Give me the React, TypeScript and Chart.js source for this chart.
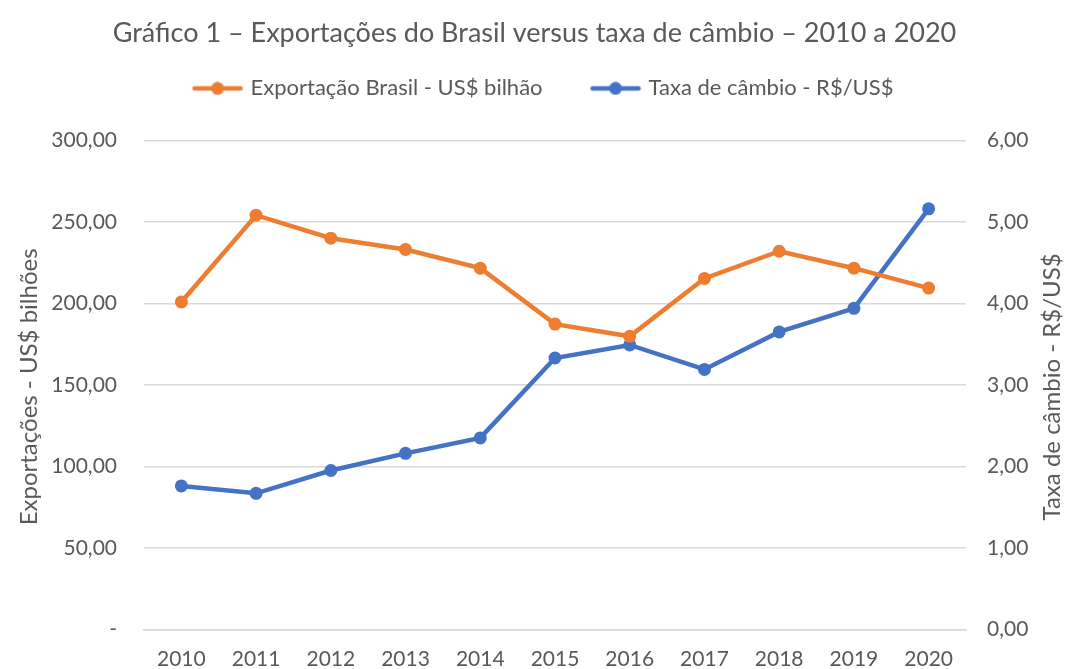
import React, { useEffect, useRef } from "react";
import { Chart, registerables } from "chart.js";

Chart.register(...registerables);

const years = ["2010", "2011", "2012", "2013", "2014", "2015", "2016", "2017", "2018", "2019", "2020"];
const exportsUSD = [200.9, 254.1, 240.0, 233.1, 221.6, 187.3, 179.8, 215.3, 232.0, 221.6, 209.4];
const exchangeRate = [1.76, 1.67, 1.95, 2.16, 2.35, 3.33, 3.49, 3.19, 3.65, 3.94, 5.16];

const title = "Gráfico 1 – Exportações do Brasil versus taxa de câmbio – 2010 a 2020";
const seriesNames = ["Exportação Brasil - US$ bilhão", "Taxa de câmbio - R$/US$"];
const leftAxisTitle = "Exportações - US$ bilhões";
const rightAxisTitle = "Taxa de câmbio - R$/US$";

const ORANGE = "#ED7D31";
const BLUE = "#4472C4";
const TEXT = "#595959";
const GRID = "#D9D9D9";
const FONT = "Lato, 'Open Sans', sans-serif";

function legendIcon(color: string): HTMLCanvasElement {
  const c = document.createElement("canvas");
  c.width = 52;
  c.height = 14;
  const ctx = c.getContext("2d")!;
  ctx.strokeStyle = color;
  ctx.lineWidth = 4.5;
  ctx.lineCap = "round";
  ctx.beginPath();
  ctx.moveTo(3, 7);
  ctx.lineTo(49, 7);
  ctx.stroke();
  ctx.fillStyle = color;
  ctx.beginPath();
  ctx.arc(26, 7, 6.5, 0, Math.PI * 2);
  ctx.fill();
  return c;
}

const fmt = (v: number) => v.toFixed(2).replace(".", ",");

export default function App() {
  const ref = useRef<HTMLCanvasElement>(null);

  useEffect(() => {
    document.body.style.margin = "0";
    const icons = [legendIcon(ORANGE), legendIcon(BLUE)];

    const legendSpacer = {
      id: "legendSpacer",
      beforeInit(chart: any) {
        const legend = chart.legend;
        if (!legend) return;
        const origFit = legend.fit;
        legend.fit = function () {
          origFit.call(legend);
          legend.height += 31;
        };
      },
      afterLayout(chart: any) {
        const legend = chart.legend;
        if (!legend) return;
        legend.left += 10;
        legend.right += 10;
      },
    };

    const axisTitles = {
      id: "axisTitles",
      afterDraw(chart: any) {
        const { ctx, chartArea } = chart;
        const cy = (chartArea.top + chartArea.bottom) / 2 + 2;
        ctx.save();
        ctx.fillStyle = TEXT;
        ctx.font = `24px ${FONT}`;
        ctx.textAlign = "center";
        ctx.textBaseline = "middle";
        ctx.translate(29, cy);
        ctx.rotate(-Math.PI / 2);
        ctx.fillText(leftAxisTitle, 0, 0);
        ctx.restore();
        ctx.save();
        ctx.fillStyle = TEXT;
        ctx.font = `24px ${FONT}`;
        ctx.textAlign = "center";
        ctx.textBaseline = "middle";
        ctx.translate(1052, cy);
        ctx.rotate(-Math.PI / 2);
        ctx.fillText(rightAxisTitle, 0, 0);
        ctx.restore();
      },
    };

    const chart = new Chart(ref.current!, {
      type: "line",
      data: {
        labels: years,
        datasets: [
          {
            label: seriesNames[0],
            data: exportsUSD,
            yAxisID: "y",
            borderColor: ORANGE,
            backgroundColor: ORANGE,
            borderWidth: 4.5,
            pointRadius: 6.5,
            pointHoverRadius: 6.5,
            pointBackgroundColor: ORANGE,
            pointBorderWidth: 0,
            tension: 0,
          },
          {
            label: seriesNames[1],
            data: exchangeRate,
            yAxisID: "y1",
            borderColor: BLUE,
            backgroundColor: BLUE,
            borderWidth: 4.5,
            pointRadius: 6.5,
            pointHoverRadius: 6.5,
            pointBackgroundColor: BLUE,
            pointBorderWidth: 0,
            tension: 0,
          },
        ],
      },
      options: {
        responsive: false,
        animation: false,
        layout: { padding: { left: 0, right: 0, top: 0, bottom: 0 } },
        elements: { point: { pointStyle: "circle" } },
        plugins: {
          title: {
            display: true,
            text: title,
            color: TEXT,
            font: { family: FONT, size: 27, weight: "normal" },
            padding: { top: 17, bottom: -23 },
          },
          legend: {
            display: true,
            position: "top",
            labels: {
              color: TEXT,
              font: { family: FONT, size: 22 },
              usePointStyle: true,
              pointStyleWidth: 44,
              padding: 51,
              generateLabels: () =>
                seriesNames.map((name, i) => ({
                  text: name,
                  fillStyle: i === 0 ? ORANGE : BLUE,
                  strokeStyle: i === 0 ? ORANGE : BLUE,
                  lineWidth: 0,
                  pointStyle: icons[i] as any,
                  datasetIndex: i,
                  fontColor: TEXT,
                  hidden: false,
                })),
            },
          },
          tooltip: { enabled: false },
        },
        scales: {
          x: {
            offset: true,
            grid: { display: false, drawTicks: false },
            border: { display: true, color: GRID, width: 1.5 },
            ticks: {
              color: TEXT,
              font: { family: FONT, size: 21 },
              padding: 17,
              maxRotation: 0,
            },
            afterFit: (s: any) => {
              s.height = 39;
            },
          },
          y: {
            position: "left",
            min: 0,
            max: 300,
            grid: { color: GRID, lineWidth: 1.5, drawTicks: false },
            border: { display: false },
            ticks: {
              stepSize: 50,
              color: TEXT,
              font: { family: FONT, size: 21 },
              padding: 27,
              callback: (v: any) => (Number(v) === 0 ? "-" : fmt(Number(v))),
            },
            afterFit: (s: any) => {
              s.width = 144;
            },
          },
          y1: {
            position: "right",
            min: 0,
            max: 6,
            grid: { display: false, drawTicks: false },
            border: { display: false },
            ticks: {
              stepSize: 1,
              color: TEXT,
              font: { family: FONT, size: 21 },
              padding: 21,
              callback: (v: any) => fmt(Number(v)),
            },
            afterFit: (s: any) => {
              s.width = 103;
            },
          },
        },
      },
      plugins: [legendSpacer, axisTitles],
    });
    return () => chart.destroy();
  }, []);

  return (
    <div style={{ width: 1069, height: 669 }}>
      <canvas ref={ref} width={1069} height={669} style={{ display: "block" }} />
    </div>
  );
}
